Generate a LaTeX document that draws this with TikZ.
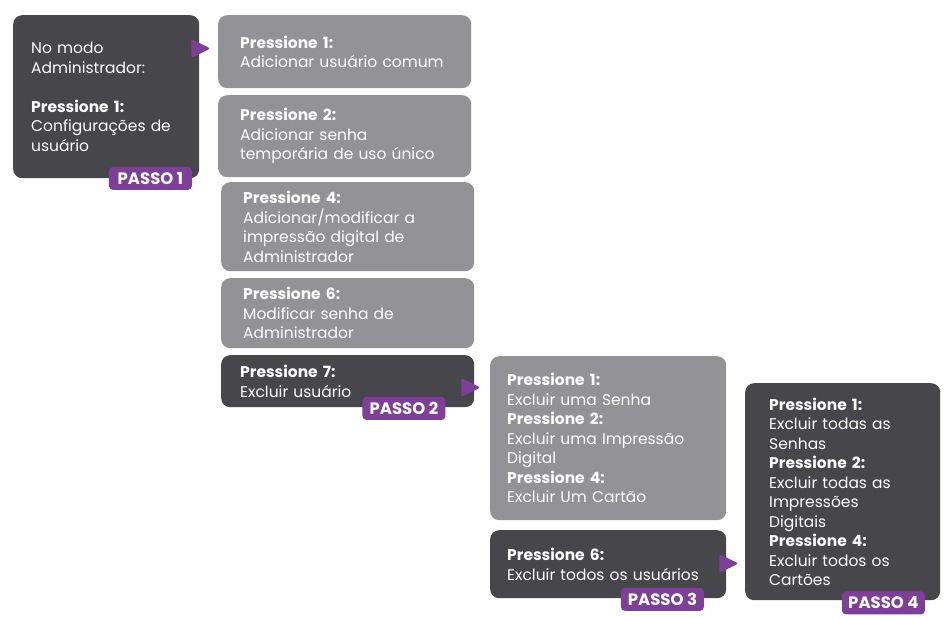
\documentclass[tikz,border=0pt]{standalone}
\usepackage{fontspec}
\setmainfont{Poppins}
\usetikzlibrary{positioning}
\definecolor{PassoDark}{HTML}{46464B}
\definecolor{PassoGray}{HTML}{939397}
\definecolor{PassoPurple}{HTML}{7D3F98}
\tikzset{
  box/.style={anchor=north west,rounded corners=9pt,inner xsep=20pt,
    inner ysep=0pt,align=left,text=white,
    font=\fontsize{15.5}{19.5}\selectfont},
  darkbox/.style={box,fill=PassoDark},
  graybox/.style={box,fill=PassoGray},
  passo/.style={fill=PassoPurple,rounded corners=4pt,text=white,
    minimum width=83pt,minimum height=23pt,inner sep=0pt,
    font=\bfseries\fontsize{16.5}{18}\selectfont},
  tip/.style={fill=PassoPurple,rounded corners=2pt},
}

\begin{document}
\begin{tikzpicture}[x=1pt,y=-1pt]
        \useasboundingbox (0,0) rectangle (946,618);

        % passo 1
        \node[darkbox,inner xsep=18pt,text width=150pt,minimum height=163pt] (p1) at (13,15)
          {No modo\\Administrador:\\[19.5pt]\textbf{Pressione 1:}\\Configurações de\\usuário};
        \node[passo] (b1) at ([xshift=-49pt]p1.south east) {PASSO 1};

        % menu de usuario
        \node[graybox,inner xsep=22pt,text width=209pt,minimum height=73pt] (g1) at (218,15)
          {\textbf{Pressione 1:}\\Adicionar usuário comum};
        \node[graybox,inner xsep=22pt,text width=209pt,minimum height=82pt] (g2) at (218,95)
          {\textbf{Pressione 2:}\\Adicionar senha\\temporária de uso único};
        \node[graybox,inner xsep=22pt,text width=209pt,minimum height=89pt] (g3) at (221,182)
          {\textbf{Pressione 4:}\\Adicionar/modificar a\\impressão digital de\\Administrador};
        \node[graybox,inner xsep=22pt,text width=209pt,minimum height=70pt] (g4) at (221,278)
          {\textbf{Pressione 6:}\\Modificar senha de\\Administrador};
        \node[darkbox,inner xsep=19pt,text width=215pt,minimum height=52pt] (p2) at (221,355)
          {\textbf{Pressione 7:}\\Excluir usuário};
        \node[passo] (b2) at ([xshift=-70.5pt,yshift=-1pt]p2.south east) {PASSO 2};

        % excluir
        \node[graybox,inner xsep=17pt,text width=202pt,minimum height=164pt] (g5) at (490,356)
          {\textbf{Pressione 1:}\\Excluir uma Senha\\\textbf{Pressione 2:}\\Excluir uma Impressão\\Digital\\\textbf{Pressione 4:}\\Excluir Um Cartão};
        \node[darkbox,inner xsep=17pt,text width=202pt,minimum height=68pt] (p3) at (490,530)
          {\textbf{Pressione 6:}\\Excluir todos os usuários};
        \node[passo] (b3) at ([xshift=-64pt,yshift=-1pt]p3.south east) {PASSO 3};

        % excluir todos
        \node[darkbox,inner xsep=24pt,text width=147pt,minimum height=217pt] (p4) at (745,383)
          {\textbf{Pressione 1:}\\Excluir todas as\\Senhas\\\textbf{Pressione 2:}\\Excluir todas as\\Impressões\\Digitais\\\textbf{Pressione 4:}\\Excluir todos os\\Cartões};
        \node[passo] (b4) at ([xshift=-57pt,yshift=-2.5pt]p4.south east) {PASSO 4};

        % setas
        \fill[tip] ([xshift=-8pt,yshift=-24pt]p1.north east)
          -- ++(19,9.5) -- ++(-19,9.5) -- cycle;
        \fill[tip] ([xshift=-13pt,yshift=-23pt]p2.north east)
          -- ++(19,9.5) -- ++(-19,9.5) -- cycle;
        \fill[tip] ([xshift=-7pt,yshift=-24pt]p3.north east)
          -- ++(19,9.5) -- ++(-19,9.5) -- cycle;

      \end{tikzpicture}
\end{document}
